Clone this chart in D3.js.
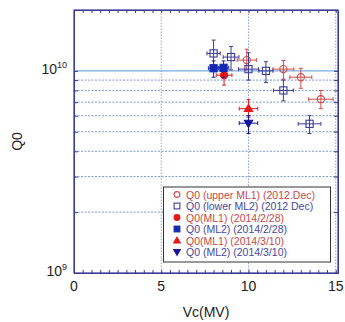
<!DOCTYPE html>
<html>
<head>
<meta charset="utf-8">
<script src="https://cdn.jsdelivr.net/npm/d3@7"></script>
<style>
  body { margin: 0; background: #fff; }
  svg { display: block; font-family: Arial, "Liberation Sans", sans-serif; }
</style>
</head>
<body>
<svg id="chart" width="345" height="322"></svg>
<script>
// Q0 vs Vc, one array set per measurement series
const upperML1X = [9.9, 12.0, 13.0, 14.15];
const upperML1Y = [1.13e10, 1.02e10, 0.93e10, 0.724e10];
const upperML1Lo = [1.01e10, 0.91e10, 0.82e10, 0.65e10];
const upperML1Hi = [1.28e10, 1.125e10, 1.03e10, 0.80e10];
const upperML1Xerr = [0.55, 0.6, 0.63, 0.7];

const lowerML2X = [8.0, 9.0, 10.0, 11.0, 12.0, 13.5];
const lowerML2Y = [1.22e10, 1.17e10, 1.02e10, 1.0e10, 0.8e10, 0.547e10];
const lowerML2Lo = [1.06e10, 1.01e10, 0.9e10, 0.875e10, 0.71e10, 0.49e10];
const lowerML2Hi = [1.42e10, 1.32e10, 1.23e10, 1.11e10, 0.9e10, 0.6e10];
const lowerML2Xerr = [0.38, 0.45, 0.57, 0.4, 0.57, 0.65];

const ml1FebX = [8.6];
const ml1FebY = [0.952e10];
const ml1FebLo = [0.85e10];
const ml1FebHi = [1.05e10];
const ml1FebXerr = [0.45];

const ml2FebX = [8.0, 8.57];
const ml2FebY = [1.03e10, 1.035e10];
const ml2FebLo = [0.93e10, 0.93e10];
const ml2FebHi = [1.12e10, 1.12e10];
const ml2FebXerr = [0.3, 0.3];

const ml1MarX = [10.0];
const ml1MarY = [0.65e10];
const ml1MarLo = [0.59e10];
const ml1MarHi = [0.72e10];
const ml1MarXerr = [0.53];

const ml2MarX = [10.0];
const ml2MarY = [0.551e10];
const ml2MarLo = [0.49e10];
const ml2MarHi = [0.6e10];
const ml2MarXerr = [0.53];

const xTicks = [0, 5, 10, 15];
const legendLabels = [
  "Q0 (upper ML1) (2012.Dec)",
  "Q0 (lower ML2) (2012 Dec)",
  "Q0(ML1) (2014/2/28)",
  "Q0 (ML2) (2014/2/28)",
  "Q0(ML1) (2014/3/10)",
  "Q0 (ML2)  (2014/3/10)"
];

const zip = (xs, ys, lo, hi, xe) => xs.map((x, i) => ({ x, y: ys[i], lo: lo[i], hi: hi[i], xe: xe[i] }));

const series = [
  { data: zip(upperML1X, upperML1Y, upperML1Lo, upperML1Hi, upperML1Xerr), shape: "circle", fill: false, color: "#d04a4a", text: "#c84848" },
  { data: zip(lowerML2X, lowerML2Y, lowerML2Lo, lowerML2Hi, lowerML2Xerr), shape: "square", fill: false, color: "#3c3c98", text: "#4646a2" },
  { data: zip(ml1FebX, ml1FebY, ml1FebLo, ml1FebHi, ml1FebXerr), shape: "circle", fill: true, color: "#e81818", text: "#c84848" },
  { data: zip(ml2FebX, ml2FebY, ml2FebLo, ml2FebHi, ml2FebXerr), shape: "square", fill: true, color: "#1428b4", text: "#4646a2" },
  { data: zip(ml1MarX, ml1MarY, ml1MarLo, ml1MarHi, ml1MarXerr), shape: "up", fill: true, color: "#e81818", text: "#c84848" },
  { data: zip(ml2MarX, ml2MarY, ml2MarLo, ml2MarHi, ml2MarXerr), shape: "down", fill: true, color: "#14149c", text: "#4646a2" }
];

const margin = { left: 74, right: 7, top: 10, bottom: 49 };
const width = 345, height = 322;
const svg = d3.select("#chart");

const x = d3.scaleLinear().domain([0, 15.13]).range([margin.left, width - margin.right]);
const y = d3.scaleLog().domain([1e9, 2e10]).range([height - margin.bottom, margin.top]);
const [x0, x1] = x.range();
const [y0, y1] = y.range();

// grid
const minorY = d3.range(2, 10).map(d => d * 1e9);
svg.append("g").selectAll("line").data(minorY).join("line")
  .attr("x1", x0).attr("x2", x1)
  .attr("y1", d => y(d)).attr("y2", d => y(d))
  .attr("stroke", "#5c7fc4").attr("stroke-width", 0.8).attr("stroke-dasharray", "2,1.5");
svg.append("line")
  .attr("x1", x0).attr("x2", x1).attr("y1", y(1e10)).attr("y2", y(1e10))
  .attr("stroke", "#7aaee0").attr("stroke-width", 1.3);
svg.append("g").selectAll("line").data([5, 10, 15]).join("line")
  .attr("x1", d => x(d)).attr("x2", d => x(d)).attr("y1", y0).attr("y2", y1)
  .attr("stroke", "#6a8fd0").attr("stroke-width", 0.8).attr("stroke-dasharray", "1.5,1.5");

// frame and ticks
const frame = "#3a3a96";
const xMinor = d3.range(0, 15.01, 0.5);
const xAxisB = d3.axisBottom(x).tickValues(xMinor).tickSizeInner(-3).tickSizeOuter(0).tickFormat("");
const xAxisT = d3.axisTop(x).tickValues(xMinor).tickSizeInner(-3).tickSizeOuter(0).tickFormat("");
const yAll = [1e9].concat(minorY, [1e10, 2e10]);
const yAxisL = d3.axisLeft(y).tickValues(yAll).tickSizeInner(-4).tickSizeOuter(0).tickFormat("");
const yAxisR = d3.axisRight(y).tickValues(yAll).tickSizeInner(-4).tickSizeOuter(0).tickFormat("");
[[xAxisB, `translate(0,${y0})`], [xAxisT, `translate(0,${y1})`],
 [yAxisL, `translate(${x0},0)`], [yAxisR, `translate(${x1},0)`]].forEach(([ax, t]) => {
  const g = svg.append("g").attr("transform", t).call(ax);
  g.selectAll("line, path").attr("stroke", frame).attr("stroke-width", 1);
});
svg.append("rect").attr("x", x0).attr("y", y1).attr("width", x1 - x0).attr("height", y0 - y1)
  .attr("fill", "none").attr("stroke", frame).attr("stroke-width", 1.2);

// tick labels
svg.append("g").selectAll("text").data(xTicks).join("text")
  .attr("x", d => x(d)).attr("y", y0 + 18)
  .attr("text-anchor", "middle").attr("font-size", 14).attr("fill", "#222")
  .text(d => d);
[[1e10, "10"], [1e9, "9"]].forEach(([v, exp]) => {
  const t = svg.append("text").attr("x", x0 - 7).attr("y", y(v) + 3)
    .attr("text-anchor", "end").attr("font-size", 14).attr("fill", "#222");
  t.append("tspan").text("10");
  t.append("tspan").attr("font-size", 9).attr("dy", -6).text(exp);
});

// axis titles
svg.append("text").attr("x", (x0 + x1) / 2).attr("y", 317)
  .attr("text-anchor", "middle").attr("font-size", 14).attr("fill", "#222").text("Vc(MV)");
svg.append("text").attr("transform", `translate(22,${(y0 + y1) / 2}) rotate(-90)`)
  .attr("text-anchor", "middle").attr("font-size", 14).attr("fill", "#222").text("Q0");

// markers
const triUp = d3.symbol().type(d3.symbolTriangle);
function drawMarker(g, s, cx, cy, scale) {
  const k = scale || 1;
  let m;
  if (s.shape === "circle") {
    m = g.append("circle").attr("cx", cx).attr("cy", cy).attr("r", 3.6 * k);
  } else if (s.shape === "square") {
    const h = 3.6 * k;
    m = g.append("rect").attr("x", cx - h).attr("y", cy - h).attr("width", 2 * h).attr("height", 2 * h);
  } else {
    const rot = s.shape === "down" ? 180 : 0;
    m = g.append("path").attr("d", triUp.size(30 * k * k)())
      .attr("transform", `translate(${cx},${cy + (s.shape === "down" ? -0.5 : 0.5)}) rotate(${rot})`);
  }
  m.attr("fill", s.fill ? s.color : "none").attr("stroke", s.color).attr("stroke-width", 1.1);
}

const plot = svg.append("g");
series.forEach(s => {
  s.data.forEach(d => {
    const g = plot.append("g").attr("stroke", s.color).attr("stroke-width", 1);
    const cx = x(d.x), cy = y(d.y);
    g.append("line").attr("x1", x(d.x - d.xe)).attr("x2", x(d.x + d.xe)).attr("y1", cy).attr("y2", cy);
    g.append("line").attr("x1", cx).attr("x2", cx).attr("y1", y(d.lo)).attr("y2", y(d.hi));
    [d.x - d.xe, d.x + d.xe].forEach(v => g.append("line")
      .attr("x1", x(v)).attr("x2", x(v)).attr("y1", cy - 2).attr("y2", cy + 2));
    [d.lo, d.hi].forEach(v => g.append("line")
      .attr("x1", cx - 2).attr("x2", cx + 2).attr("y1", y(v)).attr("y2", y(v)));
    drawMarker(plot, s, cx, cy);
  });
});

// legend
const lg = svg.append("g");
lg.append("rect").attr("x", 163.5).attr("y", 187).attr("width", 167).attr("height", 75)
  .attr("fill", "#fff").attr("stroke", "#333").attr("stroke-width", 1);
series.forEach((s, i) => {
  const ly = 194.5 + i * 11.5;
  drawMarker(lg, s, 177, ly, 0.8);
  lg.append("text").attr("x", 186).attr("y", ly + 4)
    .attr("font-size", 10.5).attr("fill", s.text).text(legendLabels[i]);
});
</script>
</body>
</html>
